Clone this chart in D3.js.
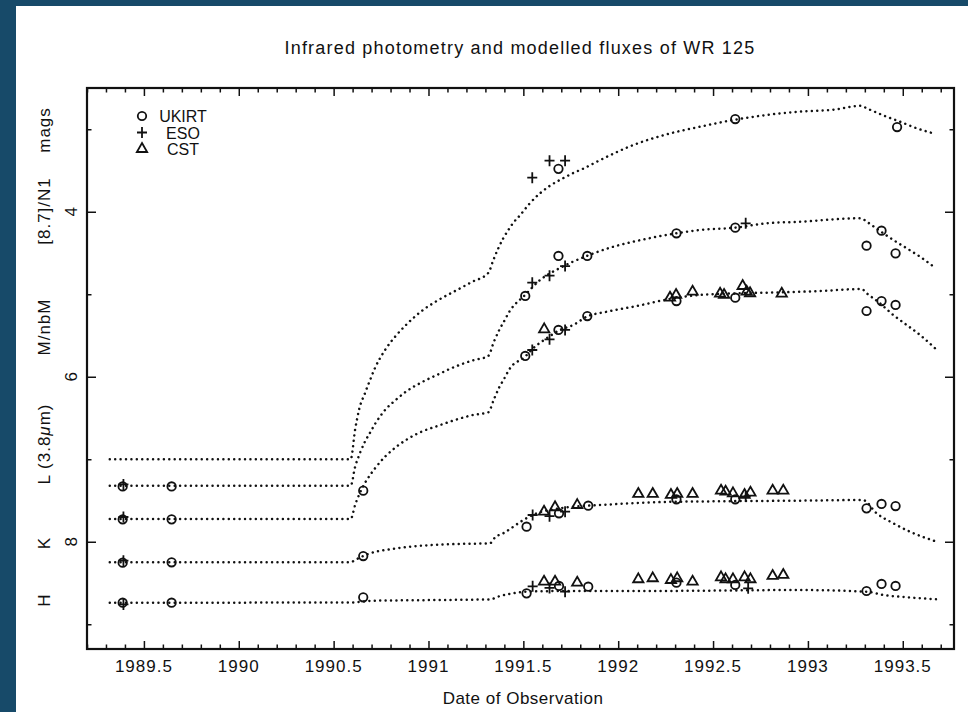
<!DOCTYPE html>
<html>
<head>
<meta charset="utf-8">
<script src="https://cdn.jsdelivr.net/npm/d3@7"></script>
<style>
  body { margin: 0; background: #fff; }
  svg { display: block; font-family: "Liberation Sans", Arial, sans-serif; }
</style>
</head>
<body>
<div id="chart"></div>
<script>
// ---- data: [year, magnitude] ----
const xMajorTicks = [1989.5, 1990, 1990.5, 1991, 1991.5, 1992, 1992.5, 1993, 1993.5];
const yMajorTicks = [4, 6, 8];
const yMinorTicks = [3, 5, 7, 9];
const legendNames = ["UKIRT", "ESO", "CST"];

// modelled fluxes (dotted curves)
const modelN = [
  [1989.32, 7.0], [1990.59, 7.0], [1990.613, 6.645], [1990.635, 6.39], [1990.665, 6.2],
  [1990.692, 6.04], [1990.718, 5.894], [1990.771, 5.676], [1990.827, 5.506], [1990.881, 5.373],
  [1990.964, 5.203], [1991.052, 5.07], [1991.14, 4.961], [1991.228, 4.852], [1991.315, 4.742],
  [1991.342, 4.585], [1991.368, 4.443], [1991.394, 4.322], [1991.421, 4.221], [1991.447, 4.133],
  [1991.479, 4.052], [1991.531, 3.906], [1991.588, 3.776], [1991.644, 3.679], [1991.702, 3.603],
  [1991.76, 3.534], [1991.82, 3.473], [1991.908, 3.37], [1992.08, 3.191], [1992.256, 3.061],
  [1992.431, 2.969], [1992.607, 2.888], [1992.783, 2.827], [1992.958, 2.787], [1993.134, 2.763],
  [1993.28, 2.715], [1993.31, 2.746], [1993.415, 2.848], [1993.485, 2.908], [1993.573, 2.988],
  [1993.661, 3.049]
];
const modelM = [
  [1989.32, 7.32], [1990.59, 7.32], [1990.613, 7.094], [1990.639, 6.924], [1990.665, 6.787],
  [1990.692, 6.678], [1990.718, 6.573], [1990.771, 6.403], [1990.827, 6.282], [1990.881, 6.181],
  [1990.964, 6.067], [1991.052, 5.97], [1991.14, 5.878], [1991.228, 5.805], [1991.315, 5.748],
  [1991.345, 5.575], [1991.373, 5.433], [1991.4, 5.321], [1991.426, 5.212], [1991.509, 5.009],
  [1991.588, 4.827], [1991.693, 4.682], [1991.834, 4.536], [1991.974, 4.424], [1992.08, 4.363],
  [1992.308, 4.261], [1992.431, 4.221], [1992.616, 4.193], [1992.783, 4.14], [1992.958, 4.121],
  [1993.28, 4.079], [1993.31, 4.121], [1993.38, 4.233], [1993.45, 4.342], [1993.521, 4.443],
  [1993.591, 4.545], [1993.67, 4.678]
];
const modelL = [
  [1989.32, 7.724], [1990.59, 7.724], [1990.613, 7.555], [1990.665, 7.288], [1990.692, 7.191],
  [1990.718, 7.11], [1990.771, 6.969], [1990.827, 6.855], [1990.881, 6.767], [1990.964, 6.666],
  [1991.052, 6.593], [1991.14, 6.524], [1991.228, 6.467], [1991.315, 6.431], [1991.345, 6.273],
  [1991.373, 6.128], [1991.4, 6.019], [1991.426, 5.91], [1991.509, 5.757], [1991.561, 5.636],
  [1991.623, 5.534], [1991.693, 5.433], [1991.763, 5.373], [1991.834, 5.272], [1991.939, 5.212],
  [1992.08, 5.151], [1992.29, 5.049], [1992.431, 5.009], [1992.642, 4.988], [1992.87, 4.976],
  [1993.063, 4.961], [1993.283, 4.936], [1993.31, 4.988], [1993.38, 5.11], [1993.45, 5.252],
  [1993.521, 5.373], [1993.591, 5.494], [1993.67, 5.655]
];
const modelK = [
  [1989.32, 8.249], [1990.59, 8.249], [1990.613, 8.221], [1990.656, 8.173], [1990.692, 8.14],
  [1990.797, 8.092], [1990.903, 8.06], [1991.025, 8.039], [1991.149, 8.027], [1991.324, 8.019],
  [1991.351, 7.946], [1991.394, 7.898], [1991.447, 7.818], [1991.5, 7.736], [1991.57, 7.655],
  [1991.658, 7.607], [1991.763, 7.575], [1991.904, 7.555], [1992.062, 7.534], [1992.238, 7.518],
  [1992.501, 7.51], [1992.958, 7.502], [1993.29, 7.494], [1993.362, 7.655], [1993.45, 7.776],
  [1993.538, 7.878], [1993.679, 7.999]
];
const modelH = [
  [1989.32, 8.739], [1990.59, 8.736], [1990.709, 8.715], [1991.061, 8.706], [1991.324, 8.698],
  [1991.377, 8.658], [1991.447, 8.625], [1991.518, 8.605], [1991.711, 8.597], [1992.15, 8.597],
  [1992.958, 8.585], [1993.31, 8.605], [1993.397, 8.645], [1993.521, 8.673], [1993.679, 8.698]
];

// UKIRT photometry (circles)
const ukirtN = [[1991.685, 3.48], [1992.617, 2.876], [1993.47, 2.973]];
const ukirtM = [
  [1989.388, 7.33], [1989.646, 7.33], [1991.51, 5.021], [1991.685, 4.536], [1991.837, 4.536],
  [1992.307, 4.261], [1992.617, 4.193], [1993.309, 4.412], [1993.388, 4.23], [1993.462, 4.504]
];
const ukirtL = [
  [1989.388, 7.728], [1989.646, 7.728], [1990.656, 7.381], [1991.51, 5.748], [1991.685, 5.433],
  [1991.837, 5.264], [1992.307, 5.082], [1992.617, 5.042], [1993.309, 5.203], [1993.388, 5.082],
  [1993.462, 5.13]
];
const ukirtK = [
  [1989.388, 8.254], [1989.646, 8.249], [1990.656, 8.173], [1991.517, 7.818], [1991.688, 7.655],
  [1991.842, 7.563], [1992.307, 7.485], [1992.617, 7.485], [1993.309, 7.595], [1993.388, 7.542],
  [1993.462, 7.567]
];
const ukirtH = [
  [1989.388, 8.739], [1989.646, 8.739], [1990.656, 8.673], [1991.517, 8.625], [1991.688, 8.536],
  [1991.842, 8.545], [1992.307, 8.496], [1992.617, 8.524], [1993.309, 8.597], [1993.388, 8.512],
  [1993.462, 8.536]
];

// ESO photometry (plus signs)
const esoN = [[1991.547, 3.587], [1991.638, 3.381], [1991.72, 3.381]];
const esoM = [[1989.392, 7.305], [1991.547, 4.86], [1991.638, 4.775], [1991.72, 4.658], [1992.672, 4.14]];
const esoL = [[1989.392, 7.7], [1991.547, 5.676], [1991.638, 5.546], [1991.72, 5.433]];
const esoK = [[1989.392, 8.23], [1991.549, 7.676], [1991.638, 7.69], [1991.72, 7.636], [1992.672, 7.451]];
const esoH = [[1989.392, 8.76], [1991.549, 8.54], [1991.638, 8.56], [1991.72, 8.605], [1992.685, 8.564]];

// CST photometry (triangles)
const cstL = [
  [1991.61, 5.425], [1992.273, 5.042], [1992.305, 5.009], [1992.392, 4.969], [1992.537, 4.993],
  [1992.558, 5.009], [1992.656, 4.9], [1992.677, 4.969], [1992.695, 4.988], [1992.862, 4.993]
];
const cstK = [
  [1991.609, 7.636], [1991.667, 7.582], [1991.784, 7.555], [1992.106, 7.421], [1992.182, 7.421],
  [1992.278, 7.433], [1992.311, 7.421], [1992.392, 7.421], [1992.542, 7.381], [1992.566, 7.393],
  [1992.605, 7.413], [1992.666, 7.433], [1992.697, 7.405], [1992.814, 7.381], [1992.87, 7.381]
];
const cstH = [
  [1991.609, 8.484], [1991.667, 8.484], [1991.784, 8.496], [1992.106, 8.455], [1992.182, 8.443],
  [1992.278, 8.464], [1992.311, 8.443], [1992.392, 8.484], [1992.542, 8.431], [1992.566, 8.455],
  [1992.605, 8.455], [1992.666, 8.431], [1992.697, 8.455], [1992.814, 8.415], [1992.87, 8.403]
];

// ---- layout ----
const W = 968, H = 712;
const plot = { left: 87, right: 954, top: 88, bottom: 649 };

var svg = d3
  .select("#chart")
  .append("svg")
  .attr("width", W)
  .attr("height", H)
  .attr("viewBox", `0 0 ${W} ${H}`);

// scanned page background with the dark frame on the left / top
svg.append("rect").attr("width", W).attr("height", H).attr("fill", "#ffffff");
svg.append("rect").attr("width", 16).attr("height", H).attr("fill", "#174a69");
svg.append("rect").attr("width", W).attr("height", 6).attr("fill", "#174a69");

var x = d3.scaleLinear().domain([1989.2, 1993.77]).range([plot.left, plot.right]);
// magnitudes: brighter is up
var y = d3.scaleLinear().domain([2.5, 9.3]).range([plot.top, plot.bottom]);

const xMinorTicks = x.ticks(46).filter(function (d) {
  return xMajorTicks.indexOf(d) < 0;
});

// minor + major ticks, all pointing inwards
function tickAxis(axisFn, scale, values, size, translate) {
  svg
    .append("g")
    .attr("transform", translate)
    .call(axisFn(scale).tickValues(values).tickSize(-size).tickFormat(""))
    .call(function (g) {
      g.select(".domain").remove();
      g.selectAll(".tick line").attr("stroke", "#111").attr("stroke-width", 1.5);
    });
}

tickAxis(d3.axisBottom, x, xMinorTicks, 4.5, `translate(0,${plot.bottom})`);
tickAxis(d3.axisBottom, x, xMajorTicks, 8, `translate(0,${plot.bottom})`);
tickAxis(d3.axisTop, x, xMinorTicks, 4.5, `translate(0,${plot.top})`);
tickAxis(d3.axisTop, x, xMajorTicks, 8, `translate(0,${plot.top})`);
tickAxis(d3.axisLeft, y, yMinorTicks, 4.5, `translate(${plot.left},0)`);
tickAxis(d3.axisLeft, y, yMajorTicks, 9, `translate(${plot.left},0)`);
tickAxis(d3.axisRight, y, yMinorTicks, 4.5, `translate(${plot.right},0)`);
tickAxis(d3.axisRight, y, yMajorTicks, 9, `translate(${plot.right},0)`);

// frame
svg
  .append("rect")
  .attr("x", plot.left)
  .attr("y", plot.top)
  .attr("width", plot.right - plot.left)
  .attr("height", plot.bottom - plot.top)
  .attr("fill", "none")
  .attr("stroke", "#111")
  .attr("stroke-width", 2.2);

// x tick labels
svg
  .selectAll(".x-label")
  .data(xMajorTicks)
  .enter()
  .append("text")
  .attr("class", "x-label")
  .attr("x", function (d) {
    return x(d);
  })
  .attr("y", plot.bottom + 23)
  .attr("text-anchor", "middle")
  .attr("font-size", 17)
  .attr("letter-spacing", 1)
  .attr("fill", "#111")
  .text(function (d) {
    return String(d);
  });

// y tick labels, rotated like the original plot
svg
  .selectAll(".y-label")
  .data(yMajorTicks)
  .enter()
  .append("text")
  .attr("class", "y-label")
  .attr("transform", function (d) {
    return `translate(77,${y(d)}) rotate(-90)`;
  })
  .attr("text-anchor", "middle")
  .attr("font-size", 17)
  .attr("fill", "#111")
  .text(function (d) {
    return d;
  });

// title + axis titles
svg
  .append("text")
  .attr("x", 520)
  .attr("y", 54)
  .attr("text-anchor", "middle")
  .attr("font-size", 18)
  .attr("letter-spacing", 1.2)
  .attr("fill", "#111")
  .text("Infrared photometry and modelled fluxes of WR 125");

svg
  .append("text")
  .attr("x", 523)
  .attr("y", 704)
  .attr("text-anchor", "middle")
  .attr("font-size", 17)
  .attr("letter-spacing", 0.5)
  .attr("fill", "#111")
  .text("Date of Observation");

const bandLabels = [
  { t: "H", pos: 600 },
  { t: "K", pos: 543 },
  { t: "L (3.8", it: "\u03bc", rest: "m)", pos: 444 },
  { t: "M/nbM", pos: 327 },
  { t: "[8.7]/N1", pos: 211 },
  { t: "mags", pos: 130 }
];
var bl = svg
  .selectAll(".band-label")
  .data(bandLabels)
  .enter()
  .append("text")
  .attr("class", "band-label")
  .attr("transform", function (d) {
    return `translate(50,${d.pos}) rotate(-90)`;
  })
  .attr("text-anchor", "middle")
  .attr("font-size", 17)
  .attr("letter-spacing", 1)
  .attr("fill", "#111");
bl.append("tspan").text(function (d) {
  return d.t;
});
bl.filter(function (d) {
  return d.it;
})
  .append("tspan")
  .attr("font-style", "italic")
  .text(function (d) {
    return d.it;
  });
bl.filter(function (d) {
  return d.rest;
})
  .append("tspan")
  .text(function (d) {
    return d.rest;
  });

// dotted model curves
const line = d3
  .line()
  .x(function (d) {
    return x(d[0]);
  })
  .y(function (d) {
    return y(d[1]);
  })
  .curve(d3.curveMonotoneX);

svg
  .selectAll(".model")
  .data([modelN, modelM, modelL, modelK, modelH])
  .enter()
  .append("path")
  .attr("class", "model")
  .attr("d", line)
  .attr("fill", "none")
  .attr("stroke", "#111")
  .attr("stroke-width", 2.5)
  .attr("stroke-linecap", "round")
  .attr("stroke-dasharray", "0.01 5.4");

// observation symbols
const circleSym = d3.symbol().type(d3.symbolCircle).size(56)();
const triSym = d3.symbol().type(d3.symbolTriangle).size(46)();
const plusSym = "M-5,0H5M0,-5.5V5.5";

function drawObs(data, shape) {
  svg
    .append("g")
    .selectAll("path")
    .data(data)
    .enter()
    .append("path")
    .attr("d", shape)
    .attr("transform", function (d) {
      return `translate(${x(d[0])},${y(d[1])})`;
    })
    .attr("fill", "none")
    .attr("stroke", "#111")
    .attr("stroke-width", 1.8);
}

[ukirtN, ukirtM, ukirtL, ukirtK, ukirtH].forEach(function (d) {
  drawObs(d, circleSym);
});
[esoN, esoM, esoL, esoK, esoH].forEach(function (d) {
  drawObs(d, plusSym);
});
[cstL, cstK, cstH].forEach(function (d) {
  drawObs(d, triSym);
});

// legend
const legendSyms = [circleSym, plusSym, triSym];
var lg = svg
  .selectAll(".legend")
  .data(legendNames)
  .enter()
  .append("g")
  .attr("class", "legend")
  .attr("transform", function (d, i) {
    return `translate(142,${116 + i * 16.5})`;
  });
lg.append("path")
  .attr("d", function (d, i) {
    return legendSyms[i];
  })
  .attr("fill", "none")
  .attr("stroke", "#111")
  .attr("stroke-width", 1.8);
lg.append("text")
  .attr("x", 41)
  .attr("y", 6)
  .attr("text-anchor", "middle")
  .attr("font-size", 16)
  .attr("fill", "#111")
  .text(function (d) {
    return d;
  });
</script>
</body>
</html>
